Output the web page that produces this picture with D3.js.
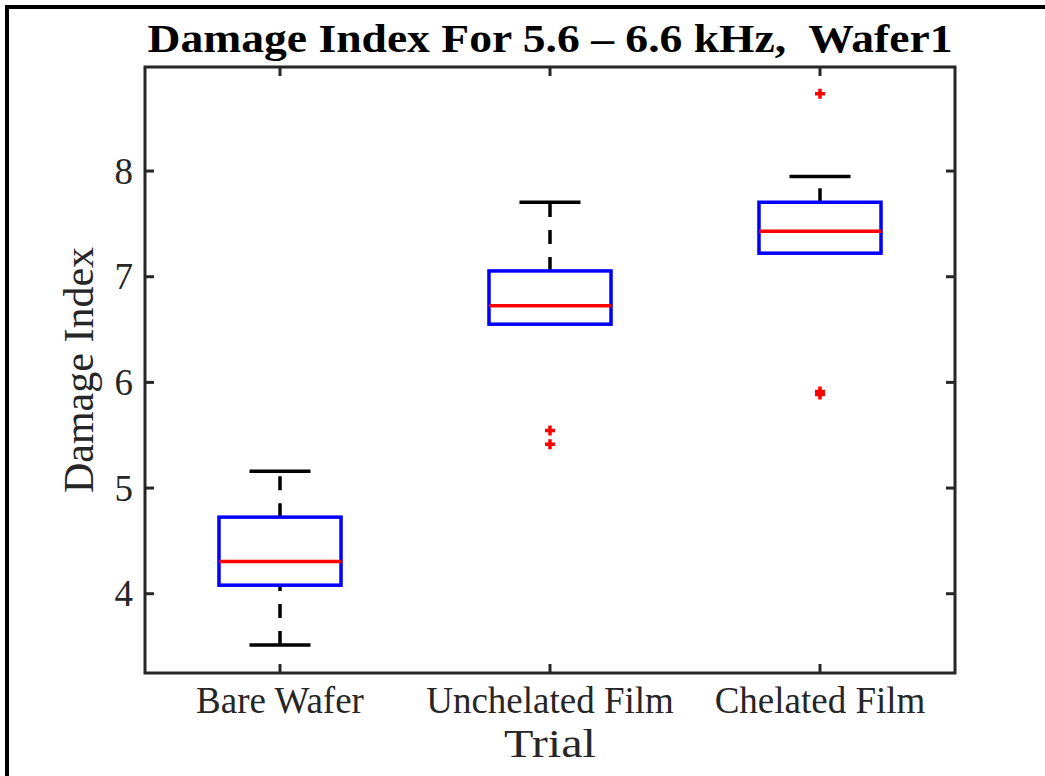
<!DOCTYPE html>
<html>
<head>
<meta charset="utf-8">
<script src="https://cdn.jsdelivr.net/npm/d3@7"></script>
<style>
  html, body { margin: 0; padding: 0; background: #fff; }
  svg { display: block; }
  text { font-family: "Liberation Serif", "DejaVu Serif", serif; }
</style>
</head>
<body>
<svg id="chart" width="1045" height="776"></svg>
<script>
// Box-plot summary for each trial
const categories   = ["Bare Wafer", "Unchelated Film", "Chelated Film"];
const whiskerLow   = [3.51, 6.546, 7.218];
const quartile1    = [4.076, 6.546, 7.218];
const medians      = [4.30, 6.72, 7.426];
const quartile3    = [4.72, 7.05, 7.70];
const whiskerHigh  = [5.155, 7.70, 7.943];
const outliers     = [[], [5.54, 5.41], [8.726, 5.91, 5.88]];
const yTicks       = [4, 5, 6, 7, 8];
const yDomain      = [3.245, 8.98];

const titleText  = "Damage Index For 5.6 \u2013 6.6 kHz,\u00A0 Wafer1";
const xLabelText = "Trial";
const yLabelText = "Damage Index";

const svg = d3.select("#chart");
const W = 1045, H = 776;
const plot = { left: 145, right: 955, top: 67, bottom: 673 };
const ink = "#262626";

// Figure frame (left and top edges)
svg.append("path")
  .attr("d", `M7,${H} L7,7 L${W},7`)
  .attr("fill", "none").attr("stroke", "#000").attr("stroke-width", 4);

const x = d3.scaleBand().domain(categories).range([plot.left, plot.right]);
const y = d3.scaleLinear().domain(yDomain).range([plot.bottom, plot.top]);
const cx = c => x(c) + x.bandwidth() / 2;
const boxW = x.bandwidth() * 0.452;
const capW = boxW / 2;

const rows = categories.map((c, i) => ({
  c, lo: whiskerLow[i], q1: quartile1[i], med: medians[i],
  q3: quartile3[i], hi: whiskerHigh[i], out: outliers[i]
}));

// Axes with inward ticks
const gx = svg.append("g").attr("transform", `translate(0,${plot.bottom})`)
  .call(d3.axisBottom(x).tickSize(-9).tickPadding(0));
const gxTop = svg.append("g").attr("transform", `translate(0,${plot.top})`)
  .call(d3.axisTop(x).tickSize(-9).tickFormat(""));
const gy = svg.append("g").attr("transform", `translate(${plot.left},0)`)
  .call(d3.axisLeft(y).tickValues(yTicks).tickSize(-9).tickPadding(12).tickFormat(d3.format("d")));
const gyR = svg.append("g").attr("transform", `translate(${plot.right},0)`)
  .call(d3.axisRight(y).tickValues(yTicks).tickSize(-9).tickFormat(""));

[gx, gxTop, gy, gyR].forEach(g => {
  g.select(".domain").remove();
  g.selectAll(".tick line").attr("stroke", ink).attr("stroke-width", 3);
});
gx.selectAll(".tick text").attr("y", 40).attr("dy", 0)
  .attr("fill", ink).attr("font-size", 37);
gy.selectAll(".tick text").attr("fill", ink).attr("font-size", 37).attr("dy", "0.34em");

// Plot box outline
svg.append("rect")
  .attr("x", plot.left).attr("y", plot.top)
  .attr("width", plot.right - plot.left).attr("height", plot.bottom - plot.top)
  .attr("fill", "none").attr("stroke", ink).attr("stroke-width", 3);

const g = svg.append("g");
const dash = "14,13";

// Whiskers: each dashed segment runs from its lower value upward
g.selectAll(".wUp").data(rows.filter(d => d.hi > d.q3)).join("line")
  .attr("x1", d => cx(d.c)).attr("x2", d => cx(d.c))
  .attr("y1", d => y(d.q3)).attr("y2", d => y(d.hi))
  .attr("stroke", "#000").attr("stroke-width", 3.5).attr("stroke-dasharray", dash);
g.selectAll(".wDn").data(rows.filter(d => d.lo < d.q1)).join("line")
  .attr("x1", d => cx(d.c)).attr("x2", d => cx(d.c))
  .attr("y1", d => y(d.lo)).attr("y2", d => y(d.q1))
  .attr("stroke", "#000").attr("stroke-width", 3.5).attr("stroke-dasharray", dash);

// Whisker caps (hidden under the box when the whisker has zero length)
g.selectAll(".capHi").data(rows.filter(d => d.hi > d.q3)).join("line")
  .attr("x1", d => cx(d.c) - capW / 2).attr("x2", d => cx(d.c) + capW / 2)
  .attr("y1", d => y(d.hi)).attr("y2", d => y(d.hi))
  .attr("stroke", "#000").attr("stroke-width", 3.5);
g.selectAll(".capLo").data(rows.filter(d => d.lo < d.q1)).join("line")
  .attr("x1", d => cx(d.c) - capW / 2).attr("x2", d => cx(d.c) + capW / 2)
  .attr("y1", d => y(d.lo)).attr("y2", d => y(d.lo))
  .attr("stroke", "#000").attr("stroke-width", 3.5);

// Boxes
g.selectAll(".box").data(rows).join("rect")
  .attr("x", d => cx(d.c) - boxW / 2).attr("width", boxW)
  .attr("y", d => y(d.q3)).attr("height", d => y(d.q1) - y(d.q3))
  .attr("fill", "none").attr("stroke", "#0000ff").attr("stroke-width", 3.5);

// Medians
g.selectAll(".med").data(rows).join("line")
  .attr("x1", d => cx(d.c) - boxW / 2).attr("x2", d => cx(d.c) + boxW / 2)
  .attr("y1", d => y(d.med)).attr("y2", d => y(d.med))
  .attr("stroke", "#ff0000").attr("stroke-width", 3.5);

// Outliers as red plus markers
const pts = rows.flatMap(d => d.out.map(v => ({ c: d.c, v })));
g.selectAll(".out").data(pts).join("path")
  .attr("transform", d => `translate(${cx(d.c)},${y(d.v)})`)
  .attr("d", "M-5,0 L5,0 M0,-5 L0,5")
  .attr("stroke", "#ff0000").attr("stroke-width", 3.5).attr("fill", "none");

// Title and axis labels
svg.append("text")
  .attr("x", (plot.left + plot.right) / 2).attr("y", 52)
  .attr("text-anchor", "middle").attr("font-weight", "bold")
  .attr("font-size", 40).attr("fill", "#000")
  .attr("textLength", 805).attr("lengthAdjust", "spacingAndGlyphs")
  .text(titleText);

svg.append("text")
  .attr("x", (plot.left + plot.right) / 2).attr("y", 757)
  .attr("text-anchor", "middle").attr("font-size", 39).attr("fill", ink)
  .attr("textLength", 92).attr("lengthAdjust", "spacingAndGlyphs")
  .text(xLabelText);

svg.append("text")
  .attr("transform", `translate(93,${(plot.top + plot.bottom) / 2}) rotate(-90)`)
  .attr("text-anchor", "middle").attr("font-size", 42).attr("fill", ink)
  .text(yLabelText);
</script>
</body>
</html>
